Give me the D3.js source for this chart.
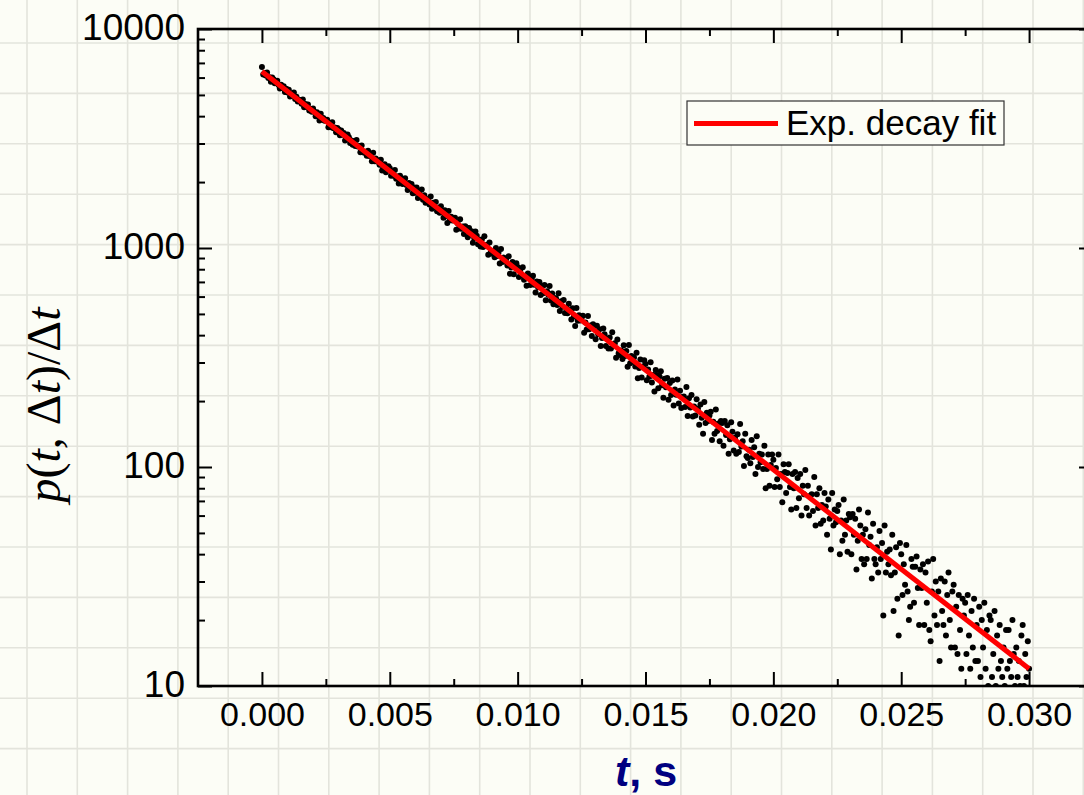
<!DOCTYPE html>
<html>
<head>
<meta charset="utf-8">
<script src="https://cdn.jsdelivr.net/npm/d3@7"></script>
<style>
  html, body { margin: 0; padding: 0; background: #fcfdf6; }
  svg { display: block; }
</style>
</head>
<body>
<svg id="chart" width="1084" height="795"></svg>
<script>
// Histogram of waiting times: bins start at binStart and are binWidth wide
const binStart = 0;        // s
const binWidth = 0.00005;  // s
const density = [
  6700, 6190, 6300, 6140, 6330, 5970, 6020, 5740, 6010, 5890,
  5650, 5770, 5810, 5550, 5350, 5560, 5390, 5480, 5150, 5330,
  5130, 5280, 4920, 5080, 4970, 5130, 4790, 4900, 4660, 4750,
  4720, 4560, 4770, 4390, 4550, 4410, 4520, 4240, 4310, 4190,
  4330, 4190, 4000, 4170, 4000, 3820, 4100, 3860, 3920, 3810,
  3840, 3850, 3560, 3690, 3560, 3750, 3520, 3550, 3380, 3530,
  3480, 3270, 3440, 3290, 3350, 3100, 3180, 3300, 3200, 3020,
  3100, 2960, 3070, 2920, 3110, 2910, 2920, 2740, 2940, 2750,
  2720, 2750, 2640, 2780, 2630, 2680, 2490, 2720, 2490, 2560,
  2480, 2510, 2400, 2530, 2260, 2340, 2410, 2220, 2310, 2360,
  2310, 2140, 2220, 2140, 2270, 2070, 2120, 1970, 2140, 2080,
  1960, 2050, 2080, 1940, 1840, 1980, 1890, 1960, 1780, 1890,
  1790, 1890, 1690, 1800, 1740, 1850, 1660, 1740, 1610, 1670,
  1670, 1580, 1720, 1510, 1610, 1540, 1620, 1470, 1520, 1450,
  1550, 1477, 1374, 1486, 1396, 1301, 1477, 1340, 1390, 1335,
  1360, 1374, 1211, 1297, 1228, 1353, 1225, 1255, 1160, 1257,
  1237, 1120, 1233, 1154, 1194, 1057, 1112, 1189, 1136, 1041,
  1092, 1017, 1094, 1010, 1131, 1022, 1036, 932, 1059, 956,
  941, 969, 907, 1000, 920, 952, 849, 990, 863, 905,
  868, 890, 833, 916, 762, 814, 864, 758, 816, 851,
  819, 738, 785, 748, 816, 717, 746, 672, 764, 737,
  677, 726, 746, 680, 627, 704, 662, 700, 610, 672,
  621, 677, 578, 634, 612, 671, 576, 619, 554, 590,
  589, 549, 621, 515, 572, 539, 579, 505, 534, 503,
  556, 521, 471, 531, 487, 440, 532, 465, 493, 467,
  482, 491, 410, 457, 424, 489, 426, 443, 396, 448,
  441, 383, 442, 404, 426, 357, 388, 429, 404, 357,
  385, 348, 390, 348, 412, 358, 367, 315, 382, 331,
  325, 340, 311, 360, 321, 339, 287, 361, 298, 321,
  303, 316, 288, 332, 254, 283, 310, 256, 288, 307,
  295, 249, 279, 258, 301, 243, 263, 221, 277, 263,
  229, 259, 274, 236, 207, 253, 231, 255, 203, 242,
  213, 248, 191, 226, 214, 251, 195, 223, 186, 209,
  210, 188, 232, 171, 206, 187, 213, 170, 189, 172,
  204, 185, 156, 193, 168, 142, 198, 159, 177, 162,
  172, 179, 133, 161, 142, 183, 146, 158, 131, 162,
  159, 125, 162, 140, 155, 115, 134, 160, 145, 119,
  136, 115, 141, 117, 157, 124, 131, 101, 142, 112,
  110, 120, 104, 133, 111, 123, 93, 138, 100, 115,
  105, 114, 98, 125, 80, 98, 114, 82, 102, 114,
  108, 81, 99, 88, 114, 81, 93, 69, 103, 95,
  76, 94, 103, 81, 64, 93, 80, 95, 65, 89,
  72, 93, 60, 82, 75, 97, 65, 82, 60, 74,
  75, 63, 90, 54, 75, 65, 80, 55, 67, 57,
  76, 66, 49, 71, 58, 42, 76, 54, 64, 56,
  63, 67, 40, 57, 46, 71, 49, 57, 41, 61,
  59, 40, 61, 49, 58, 34, 46, 64, 54, 38,
  49, 36, 52, 38, 62, 44, 48, 31, 55, 38,
  36, 43, 33, 51, 38, 45, 21, 54, 33, 41,
  36, 42, 32, 49, 22, 33, 43, 25, 17, 45,
  40, 26, 36, 29, 44, 27, 20, 23, 38, 35,
  24, 35, 39, 28, 19, 34, 28, 36, 19, 33,
  24, 37, 18, 16, 27, 38, 21, 30, 19, 27,
  13, 31, 22, 19, 30, 17, 26, 33, 20, 15,
  27, 29, 15, 23, 14, 26, 18, 12, 25, 21,
  24, 14, 26, 17, 12, 22, 15, 25, 13, 19,
  13, 23, 11, 20, 15, 24, 12, 18, 10, 21,
  20, 11, 14, 22, 10, 17, 12, 19, 13, 11,
  15, 10, 18, 12, 18, 13, 11, 20, 14, 10,
  15, 11, 13, 10, 17, 19, 10, 14, 11, 16,
  12
];

// Exponential decay fit, given by its end points (a straight line on the log axis)
const fitT = [0, 0.030];
const fitP = [6400, 12.0];

const xDomain = [-0.0025, 0.0325];
const yDomain = [10, 10000];
const xTicks = [0, 0.005, 0.010, 0.015, 0.020, 0.025, 0.030];
const xMinorTicks = [0.0025, 0.0075, 0.0125, 0.0175, 0.0225, 0.0275];
const yTicks = [10, 100, 1000, 10000];
const legendLabel = "Exp. decay fit";

const W = 1084, H = 795;
const plot = { left: 198, right: 1093, top: 29, bottom: 686 };
const sans = "'Liberation Sans', Arial, sans-serif";
const serif = "'Liberation Serif', 'Times New Roman', serif";

const svg = d3.select("#chart");

// graph-paper background
const paper = svg.append("g").attr("stroke", "#e3e4dc").attr("stroke-width", 1.6);
paper.selectAll("line.v").data(d3.range(0, 22)).join("line")
  .attr("x1", d => 27 + d * 50.3).attr("x2", d => 27 + d * 50.3)
  .attr("y1", 0).attr("y2", H);
paper.selectAll("line.h").data(d3.range(-1, 16)).join("line")
  .attr("x1", 0).attr("x2", W)
  .attr("y1", d => 43 + d * 50.4).attr("y2", d => 43 + d * 50.4);

const x = d3.scaleLinear().domain(xDomain).range([plot.left, plot.right]);
const y = d3.scaleLog().domain(yDomain).range([plot.bottom, plot.top]);

svg.append("defs").append("clipPath").attr("id", "plotClip")
  .append("rect")
  .attr("x", plot.left).attr("y", plot.top)
  .attr("width", plot.right - plot.left).attr("height", plot.bottom - plot.top);

const points = density.map((p, i) => ({ t: binStart + i * binWidth, p }));

// measured points
svg.append("g").attr("clip-path", "url(#plotClip)")
  .selectAll("circle").data(points).join("circle")
  .attr("cx", d => x(d.t)).attr("cy", d => y(d.p))
  .attr("r", 3).attr("fill", "#000");

// fit line
const fitData = fitT.map((t, i) => ({ t, p: fitP[i] }));
svg.append("path").datum(fitData)
  .attr("clip-path", "url(#plotClip)")
  .attr("d", d3.line().x(d => x(d.t)).y(d => y(d.p)))
  .attr("fill", "none").attr("stroke", "#ff0000").attr("stroke-width", 5);

// axes (ticks point inward on all four sides)
function styleAxis(g) {
  g.select(".domain").remove();
  g.selectAll(".tick line").attr("stroke", "#000").attr("stroke-width", 2);
  g.selectAll(".tick text").attr("fill", "#000").attr("font-family", sans);
}

const yMinor = y.ticks().filter(v => !yTicks.includes(v));

svg.append("g").attr("transform", `translate(0,${plot.bottom})`)
  .call(d3.axisBottom(x).tickValues(xTicks).tickSize(-14).tickPadding(16)
    .tickFormat(d3.format(".3f")))
  .call(styleAxis)
  .call(g => g.selectAll(".tick text").attr("font-size", 34));
svg.append("g").attr("transform", `translate(0,${plot.bottom})`)
  .call(d3.axisBottom(x).tickValues(xMinorTicks).tickSize(-7).tickFormat(""))
  .call(styleAxis);
svg.append("g").attr("transform", `translate(0,${plot.top})`)
  .call(d3.axisTop(x).tickValues(xTicks).tickSize(-14).tickFormat(""))
  .call(styleAxis);
svg.append("g").attr("transform", `translate(0,${plot.top})`)
  .call(d3.axisTop(x).tickValues(xMinorTicks).tickSize(-7).tickFormat(""))
  .call(styleAxis);

svg.append("g").attr("transform", `translate(${plot.left},0)`)
  .call(d3.axisLeft(y).tickValues(yTicks).tickSize(-14).tickPadding(13)
    .tickFormat(d3.format("d")))
  .call(styleAxis)
  .call(g => g.selectAll(".tick text").attr("font-size", 37).attr("dy", "0.27em"));
svg.append("g").attr("transform", `translate(${plot.left},0)`)
  .call(d3.axisLeft(y).tickValues(yMinor).tickSize(-7).tickFormat(""))
  .call(styleAxis);
svg.append("g").attr("transform", `translate(${plot.right},0)`)
  .call(d3.axisRight(y).tickValues(yTicks).tickSize(-14).tickFormat(""))
  .call(styleAxis);
svg.append("g").attr("transform", `translate(${plot.right},0)`)
  .call(d3.axisRight(y).tickValues(yMinor).tickSize(-7).tickFormat(""))
  .call(styleAxis);

// frame
svg.append("rect")
  .attr("x", plot.left).attr("y", plot.top)
  .attr("width", plot.right - plot.left).attr("height", plot.bottom - plot.top)
  .attr("fill", "none").attr("stroke", "#000").attr("stroke-width", 2.6);

// axis titles
const xTitle = svg.append("text")
  .attr("x", 646).attr("y", 786)
  .attr("text-anchor", "middle")
  .attr("font-family", sans).attr("font-size", 43).attr("font-weight", "bold")
  .attr("fill", "#000080");
xTitle.append("tspan").attr("font-style", "italic").text("t");
xTitle.append("tspan").text(", s");

const yTitle = svg.append("text")
  .attr("transform", "translate(60,405) rotate(-90)")
  .attr("text-anchor", "middle")
  .attr("font-family", serif).attr("font-size", 48).attr("fill", "#000");
[["p", true], ["(", false], ["t", true], [", \u0394", false], ["t", true],
 [")/\u0394", false], ["t", true]].forEach(([s, it]) => {
  yTitle.append("tspan").attr("font-style", it ? "italic" : "normal").text(s);
});

// legend
const legend = svg.append("g");
legend.append("rect")
  .attr("x", 687).attr("y", 101).attr("width", 317).attr("height", 44)
  .attr("fill", "#fcfdf6").attr("stroke", "#333").attr("stroke-width", 1.2);
legend.append("line")
  .attr("x1", 694).attr("x2", 778).attr("y1", 123.5).attr("y2", 123.5)
  .attr("stroke", "#ff0000").attr("stroke-width", 5);
legend.append("text")
  .attr("x", 786).attr("y", 135)
  .attr("font-family", sans).attr("font-size", 35).attr("fill", "#000")
  .text(legendLabel);
</script>
</body>
</html>
